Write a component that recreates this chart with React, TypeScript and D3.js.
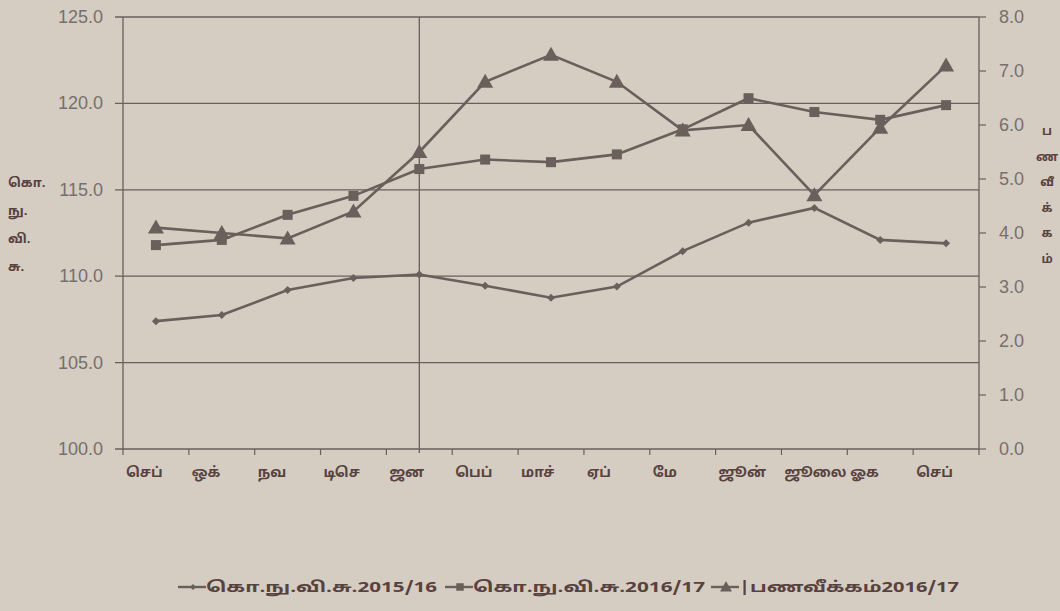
import React from 'react';
import * as d3 from 'd3';

const months = ['செப்', 'ஒக்', 'நவ', 'டிசெ', 'ஜன', 'பெப்', 'மாச்', 'ஏப்', 'மே', 'ஜூன்', 'ஜூலை', 'ஓக', 'செப்'];
const cpi201516 = [107.4, 107.75, 109.2, 109.9, 110.1, 109.45, 108.75, 109.4, 111.45, 113.1, 113.95, 112.1, 111.9];
const cpi201617 = [111.8, 112.1, 113.55, 114.65, 116.2, 116.75, 116.6, 117.05, 118.5, 120.3, 119.5, 119.05, 119.9];
const inflation201617 = [4.1, 4.0, 3.9, 4.4, 5.5, 6.8, 7.3, 6.8, 5.9, 6.0, 4.7, 5.95, 7.1];
const leftTicks = [100, 105, 110, 115, 120, 125];
const rightTicks = [0, 1, 2, 3, 4, 5, 6, 7, 8];
const leftTitle = ['கொ.', 'நு.', 'வி.', 'சு.'];
const rightTitle = ['ப', 'ண', 'வீ', 'க்', 'க', 'ம்'];
const seriesNames = ['கொ.நு.வி.சு.2015/16', 'கொ.நு.வி.சு.2016/17', '|பணவீக்கம்2016/17'];

const W = 1060, H = 611;
const L = 123, R = 979, T = 17, B = 449;
const ink = '#6b5f5c';
const numCol = '#75706d';
const tamilCol = '#584240';
const tamilFont = "'Noto Sans Tamil', 'Lohit Tamil', 'Latha', 'Noto Sans', sans-serif";

function Marker({ kind, x, y, s = 1 }: { kind: number; x: number; y: number; s?: number }) {
  if (kind === 0) {
    const r = 4 * s;
    return <path d={`M${x},${y - r}L${x + r},${y}L${x},${y + r}L${x - r},${y}Z`} fill={ink} />;
  }
  if (kind === 1) {
    const r = 5 * s;
    return <rect x={x - r} y={y - r} width={2 * r} height={2 * r} fill={ink} />;
  }
  const r = 8 * s;
  return <path d={`M${x},${y - r}L${x + r},${y + r * 0.75}L${x - r},${y + r * 0.75}Z`} fill={ink} />;
}

export default function App() {
  const idx = months.map((_, i) => i);
  const x = d3.scalePoint<number>().domain(idx).range([L, R]).padding(0.5);
  const step = x.step();
  const yL = d3.scaleLinear().domain([100, 125]).range([B, T]);
  const yR = d3.scaleLinear().domain([0, 8]).range([B, T]);

  const series = [
    { vals: cpi201516, y: yL },
    { vals: cpi201617, y: yL },
    { vals: inflation201617, y: yR },
  ];

  const line = (vals: number[], y: d3.ScaleLinear<number, number>) =>
    d3.line<number>().x((_, i) => x(i) as number).y((d) => y(d))(vals) as string;

  const boundaries = d3.range(months.length + 1).map((i) => L + i * step);

  const legendX = [178, 445, 711];
  const legendW = [231, 232, 220];

  return (
    <div style={{ position: 'absolute', left: 0, top: 0 }}>
      <svg width={W} height={H} style={{ display: 'block' }}>
        <rect x={0} y={0} width={W} height={H} fill="#d5ccc2" />
        {leftTicks.map((t) => (
          <g key={t}>
            <line x1={L - 8} x2={R} y1={yL(t)} y2={yL(t)} stroke={ink} strokeWidth={1.3} />
            <text x={103} y={yL(t) + 6} textAnchor="end" fontFamily="'Liberation Sans', Arial, sans-serif" fontSize={18} fill={numCol}>
              {t.toFixed(1)}
            </text>
          </g>
        ))}
        <line x1={L} x2={L} y1={T} y2={B} stroke={ink} strokeWidth={1.3} />
        <line x1={R} x2={R} y1={T} y2={B} stroke={ink} strokeWidth={1.3} />
        {rightTicks.map((t) => (
          <g key={t}>
            <line x1={R} x2={R + 7} y1={yR(t)} y2={yR(t)} stroke={ink} strokeWidth={1.2} />
            <text x={999} y={yR(t) + 6} fontFamily="'Liberation Sans', Arial, sans-serif" fontSize={18} fill={numCol}>
              {t.toFixed(1)}
            </text>
          </g>
        ))}
        {boundaries.map((bx, i) => (
          <line key={i} x1={bx} x2={bx} y1={B} y2={B + 6} stroke={ink} strokeWidth={1.2} />
        ))}
        <line x1={x(4) as number} x2={x(4) as number} y1={T} y2={B + 4} stroke={ink} strokeWidth={1.3} />
        {months.map((m, i) => (
          <text key={i} x={(x(i) as number) - step / 2 + 3} y={477} fontFamily={tamilFont} fontWeight="bold" fontSize={14} fill={tamilCol}>
            {m}
          </text>
        ))}
        {series.map((s, k) => (
          <g key={k}>
            <path d={line(s.vals, s.y)} fill="none" stroke={ink} strokeWidth={2.6} />
            {s.vals.map((v, i) => (
              <Marker key={i} kind={k} x={x(i) as number} y={s.y(v)} />
            ))}
          </g>
        ))}
        {leftTitle.map((t, i) => (
          <text key={i} x={8} y={187 + i * 28} fontFamily={tamilFont} fontWeight="bold" fontSize={13} fill={tamilCol}>
            {t}
          </text>
        ))}
        {rightTitle.map((t, i) => (
          <text key={i} x={1047} y={135 + i * 25.5} textAnchor="middle" fontFamily={tamilFont} fontWeight="bold" fontSize={12} fill={tamilCol}>
            {t}
          </text>
        ))}
        {seriesNames.map((n, k) => (
          <g key={k}>
            <line x1={legendX[k]} x2={legendX[k] + 28} y1={587} y2={587} stroke={ink} strokeWidth={2.4} />
            <Marker kind={k} x={legendX[k] + 15} y={587} s={0.75} />
            <text x={legendX[k] + 28} y={592} textLength={legendW[k]} lengthAdjust="spacingAndGlyphs" fontFamily={tamilFont} fontWeight="bold" fontSize={15} fill={tamilCol}>
              {n}
            </text>
          </g>
        ))}
      </svg>
    </div>
  );
}
